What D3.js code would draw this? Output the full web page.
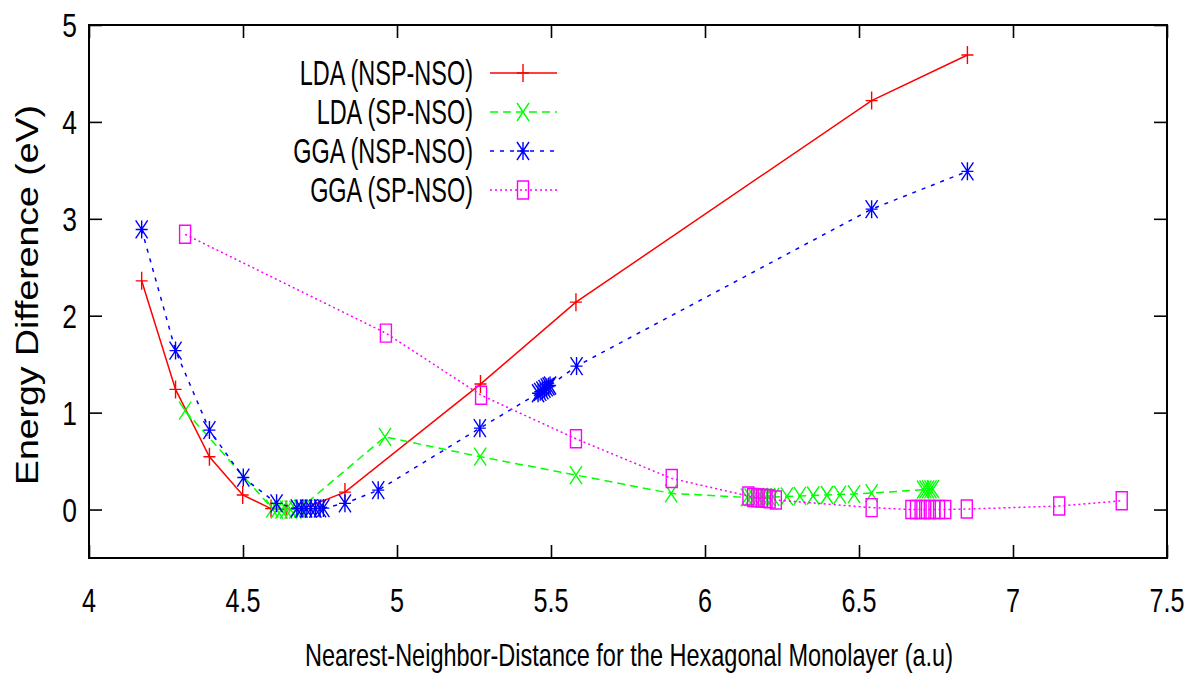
<!DOCTYPE html>
<html>
<head>
<meta charset="utf-8">
<script src="https://cdn.jsdelivr.net/npm/d3@7"></script>
<style>
  html, body { margin: 0; padding: 0; background: #fff; }
  svg { display: block; font-family: "Liberation Sans", Arial, Helvetica, sans-serif; }
</style>
</head>
<body>
<svg id="chart" width="1200" height="677"></svg>
<script>
// ---------- data ----------
const xTicks = [4, 4.5, 5, 5.5, 6, 6.5, 7, 7.5];
const xTickLabels = ["4", "4.5", "5", "5.5", "6", "6.5", "7", "7.5"];
const yTicks = [0, 1, 2, 3, 4, 5];
const yTickLabels = ["0", "1", "2", "3", "4", "5"];

const seriesNames = ["LDA (NSP-NSO)", "LDA (SP-NSO)", "GGA (NSP-NSO)", "GGA (SP-NSO)"];

const ldaNspX = [4.171, 4.281, 4.391, 4.499, 4.591, 4.64, 4.695, 4.831, 5.271, 5.581, 6.541, 6.852];
const ldaNspY = [2.36, 1.24, 0.545, 0.15, 0.01, 0.0, 0.01, 0.18, 1.295, 2.14, 4.22, 4.69];

const ldaSpX = [4.312, 4.595, 4.61, 4.625, 4.64, 4.655, 4.67, 4.685, 4.961, 5.27, 5.581, 5.89,
  6.136, 6.148, 6.16, 6.172, 6.184, 6.196, 6.208, 6.221, 6.266, 6.308, 6.351, 6.396, 6.438, 6.484, 6.541,
  6.708, 6.716, 6.724, 6.732, 6.74];
const ldaSpY = [1.02, 0.01, 0.0, 0.0, 0.0, 0.0, 0.0, 0.01, 0.75, 0.545, 0.356, 0.167,
  0.125, 0.125, 0.126, 0.127, 0.128, 0.129, 0.13, 0.13, 0.135, 0.14, 0.145, 0.15, 0.155, 0.16, 0.17,
  0.205, 0.207, 0.208, 0.209, 0.21];

const ggaNspX = [4.171, 4.281, 4.391, 4.501, 4.609, 4.675, 4.69, 4.705, 4.72, 4.735, 4.75, 4.761,
  4.831, 4.939, 5.269, 5.458, 5.465, 5.472, 5.479, 5.486, 5.492, 5.497, 5.583, 6.541, 6.852];
const ggaNspY = [2.89, 1.64, 0.82, 0.33, 0.064, 0.012, 0.01, 0.01, 0.01, 0.01, 0.012, 0.015,
  0.064, 0.20, 0.84, 1.20, 1.215, 1.23, 1.245, 1.26, 1.27, 1.28, 1.48, 3.10, 3.49];

const ggaSpX = [4.312, 4.964, 5.273, 5.581, 5.892, 6.141, 6.156, 6.17, 6.185, 6.2, 6.21, 6.23,
  6.541, 6.67, 6.685, 6.70, 6.715, 6.73, 6.745, 6.76, 6.78, 6.85, 7.15, 7.353];
const ggaSpY = [2.84, 1.82, 1.18, 0.73, 0.32, 0.14, 0.125, 0.12, 0.118, 0.115, 0.11, 0.098,
  0.02, 0.0, 0.0, 0.0, 0.0, 0.0, 0.0, 0.0, 0.0, 0.005, 0.036, 0.09];

const seriesX = [ldaNspX, ldaSpX, ggaNspX, ggaSpX];
const seriesY = [ldaNspY, ldaSpY, ggaNspY, ggaSpY];
const seriesColors = ["#ff0000", "#00ff00", "#0000ff", "#ff00ff"];
const seriesDash = [null, "8,5", "4,6", "2,3"];
const seriesMarker = ["plus", "cross", "star", "square"];

const xTitle = "Nearest-Neighbor-Distance for the Hexagonal Monolayer (a.u)";
const yTitle = "Energy Difference (eV)";

// ---------- layout ----------
const L = 89, R = 1167, T = 25, B = 558;
const svg = d3.select("#chart");
const x = d3.scaleLinear().domain([4, 7.5]).range([L, R]);
const y = d3.scaleLinear().domain([-0.5, 5]).range([B, T]);

function markerPath(type) {
  const w = 6, h = 9;
  const plus = `M${-w},0H${w}M0,${-h}V${h}`;
  const cross = `M${-w},${-h}L${w},${h}M${-w},${h}L${w},${-h}`;
  if (type === "plus") return plus;
  if (type === "cross") return cross;
  if (type === "star") return plus + cross;
  return `M-5.5,-9H5.5V9H-5.5Z`;
}

function squeeze(sel, ratio) {
  sel.each(function () {
    const n = this.getComputedTextLength();
    d3.select(this).attr("textLength", n * ratio).attr("lengthAdjust", "spacingAndGlyphs");
  });
}

// frame
svg.append("rect").attr("x", L).attr("y", T).attr("width", R - L).attr("height", B - T)
  .attr("fill", "none").attr("stroke", "#000").attr("stroke-width", 2);

// axes via d3 axis generators (ticks inward, labels drawn separately)
const tickLen = 13;
const axB = svg.append("g").attr("transform", `translate(0,${B})`)
  .call(d3.axisTop(x).tickValues(xTicks).tickSize(tickLen).tickFormat(""));
const axT = svg.append("g").attr("transform", `translate(0,${T})`)
  .call(d3.axisBottom(x).tickValues(xTicks).tickSize(tickLen).tickFormat(""));
const axL = svg.append("g").attr("transform", `translate(${L},0)`)
  .call(d3.axisRight(y).tickValues(yTicks).tickSize(tickLen).tickFormat(""));
const axR = svg.append("g").attr("transform", `translate(${R},0)`)
  .call(d3.axisLeft(y).tickValues(yTicks).tickSize(tickLen).tickFormat(""));
[axB, axT, axL, axR].forEach(g => {
  g.select(".domain").remove();
  g.selectAll("line").attr("stroke", "#000").attr("stroke-width", 1.6);
});

// tick labels
const xl = svg.append("g").selectAll("text").data(xTicks).join("text")
  .attr("x", d => x(d)).attr("y", 612).attr("text-anchor", "middle")
  .attr("font-size", 34).attr("fill", "#000")
  .text((d, i) => xTickLabels[i]);
squeeze(xl, 0.74);

const yl = svg.append("g").selectAll("text").data(yTicks).join("text")
  .attr("x", 77).attr("y", d => y(d) + 12).attr("text-anchor", "end")
  .attr("font-size", 33).attr("fill", "#000")
  .text((d, i) => yTickLabels[i]);
squeeze(yl, 0.8);

// axis titles
svg.append("text").attr("x", 629).attr("y", 666).attr("text-anchor", "middle")
  .attr("font-size", 32).attr("fill", "#000").text(xTitle)
  .attr("textLength", 648).attr("lengthAdjust", "spacingAndGlyphs");

svg.append("text").attr("transform", "translate(38,295) rotate(-90)")
  .attr("text-anchor", "middle").attr("font-size", 31).attr("fill", "#000").text(yTitle)
  .attr("textLength", 380).attr("lengthAdjust", "spacingAndGlyphs");

// series
const clipId = "plotclip";
svg.append("clipPath").attr("id", clipId).append("rect")
  .attr("x", L).attr("y", T).attr("width", R - L).attr("height", B - T);
const plot = svg.append("g").attr("clip-path", `url(#${clipId})`);

seriesNames.forEach((name, si) => {
  const pts = seriesX[si].map((xv, i) => [xv, seriesY[si][i]]);
  const line = d3.line().x(d => x(d[0])).y(d => y(d[1]));
  plot.append("path").attr("d", line(pts)).attr("fill", "none")
    .attr("stroke", seriesColors[si]).attr("stroke-width", 1.5)
    .attr("stroke-dasharray", seriesDash[si]);
  plot.append("g").selectAll("path").data(pts).join("path")
    .attr("transform", d => `translate(${x(d[0])},${y(d[1])})`)
    .attr("d", markerPath(seriesMarker[si]))
    .attr("fill", "none").attr("stroke", seriesColors[si]).attr("stroke-width", 1.4);
});

// legend
const legRows = [73, 112, 151, 190];
const leg = svg.append("g");
seriesNames.forEach((name, si) => {
  const ry = legRows[si];
  const t = leg.append("text").attr("x", 473).attr("y", ry + 12).attr("text-anchor", "end")
    .attr("font-size", 35).attr("fill", "#000").text(name);
  squeeze(t, 0.67);
  leg.append("line").attr("x1", 490).attr("x2", 557).attr("y1", ry).attr("y2", ry)
    .attr("stroke", seriesColors[si]).attr("stroke-width", 1.5)
    .attr("stroke-dasharray", seriesDash[si]);
  leg.append("path").attr("transform", `translate(523,${ry})`)
    .attr("d", markerPath(seriesMarker[si]))
    .attr("fill", "none").attr("stroke", seriesColors[si]).attr("stroke-width", 1.4);
});
</script>
</body>
</html>
